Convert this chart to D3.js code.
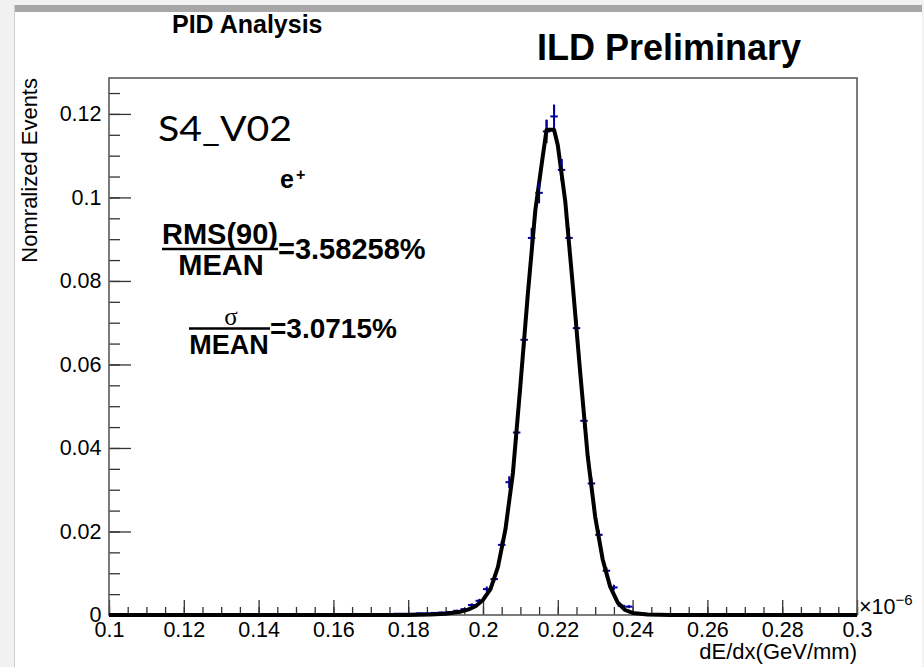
<!DOCTYPE html>
<html lang="en">
<head>
<meta charset="UTF-8">
<title>PID Analysis</title>
<style>
  body { margin: 0; background: #f1f1f1; }
  svg { display: block; }
  text { font-family: "Liberation Sans", Arial, sans-serif; fill: #000; }
</style>
</head>
<body>
<div id="chart"></div>
<script src="https://cdn.jsdelivr.net/npm/d3@7"></script>
<script>
// histogram binning: 100 bins between 0.1 and 0.3 (x 10^-6 GeV/mm)
const binStart = 0.1;
const binWidth = 0.002;
const binValues = [
  0, 0, 0, 0, 0, 0, 0, 0, 0, 0,
  0, 0.0002, 0.0001, 0, 0, 0, 0.0002, 0, 0.0001, 0,
  0, 0, 0, 0, 0, 0, 0.0002, 0.0002, 0.0001, 0,
  0, 0.0001, 0, 0, 0, 0.0002, 0.0002, 0.0002, 0.0003, 0.0003,
  0.0003, 0.0004, 0.0004, 0.0005, 0.0006, 0.0007, 0.0010, 0.0014, 0.0024, 0.0034,
  0.0062, 0.0086, 0.0168, 0.0318, 0.0437, 0.0659, 0.0903, 0.1011, 0.1158, 0.1194,
  0.1066, 0.0903, 0.0687, 0.0465, 0.0315, 0.0192, 0.0106, 0.0066, 0.0022, 0.0020,
  0.0004, 0.0002, 0.0002, 0.0002, 0, 0, 0, 0, 0, 0,
  0, 0, 0, 0.0001, 0.0002, 0.0002, 0.0001, 0, 0, 0,
  0.0001, 0, 0, 0, 0, 0.0001, 0, 0.0001, 0, 0.0002
];
const binErrors = [
  0, 0, 0, 0, 0, 0, 0, 0, 0, 0,
  0, 0.00011, 0.00008, 0, 0, 0, 0.00011, 0, 0.00008, 0,
  0, 0, 0, 0, 0, 0, 0.00011, 0.00011, 0.00008, 0,
  0, 0.00008, 0, 0, 0, 0.00011, 0.00011, 0.00011, 0.00014, 0.00014,
  0.00014, 0.00016, 0.00016, 0.00018, 0.0002, 0.00021, 0.00025, 0.0003, 0.00039, 0.00047,
  0.00063, 0.00074, 0.001, 0.0014, 0.0017, 0.0021, 0.0024, 0.0025, 0.0028, 0.0028,
  0.0026, 0.0024, 0.0021, 0.0017, 0.0014, 0.0011, 0.0008, 0.00065, 0.00038, 0.00036,
  0.00016, 0.00011, 0.00011, 0.00011, 0, 0, 0, 0, 0, 0,
  0, 0, 0, 0.00008, 0.00011, 0.00011, 0.00008, 0, 0, 0,
  0.00008, 0, 0, 0, 0, 0.00008, 0, 0.00008, 0, 0.00011
];

// fitted curve
const fitX = [0.1, 0.18, 0.186, 0.19, 0.194, 0.196, 0.198, 0.2, 0.202, 0.204, 0.206, 0.208, 0.21,
  0.212, 0.214, 0.216, 0.217, 0.219, 0.22, 0.222, 0.224, 0.226, 0.228, 0.23, 0.232, 0.234,
  0.236, 0.238, 0.24, 0.244, 0.25, 0.3];
const fitY = [0, 0, 0.0001, 0.0003, 0.0008, 0.0013, 0.0021, 0.0036, 0.0062, 0.0115, 0.0205, 0.034, 0.055,
  0.077, 0.097, 0.110, 0.1162, 0.1162, 0.1125, 0.099, 0.079, 0.058, 0.038, 0.0235, 0.0133, 0.0068,
  0.003, 0.0012, 0.0005, 0.0001, 0, 0];

const xTicks = [0.1, 0.12, 0.14, 0.16, 0.18, 0.2, 0.22, 0.24, 0.26, 0.28, 0.3];
const xTickLabels = ["0.1", "0.12", "0.14", "0.16", "0.18", "0.2", "0.22", "0.24", "0.26", "0.28", "0.3"];
const yTicks = [0, 0.02, 0.04, 0.06, 0.08, 0.1, 0.12];
const yTickLabels = ["0", "0.02", "0.04", "0.06", "0.08", "0.1", "0.12"];

const W = 924, H = 667;
const svg = d3.select("#chart").append("svg")
  .attr("width", W)
  .attr("height", H);

// window chrome
svg.append("rect").attr("width", W).attr("height", H).attr("fill", "#f1f1f1");
svg.append("rect").attr("x", 14).attr("y", 12).attr("width", 908).attr("height", H - 12).attr("fill", "#fff");
svg.append("rect").attr("x", 14).attr("y", 5).attr("width", 908).attr("height", 7).attr("fill", "#a7a7a7");
svg.append("line").attr("x1", 14.5).attr("x2", 14.5).attr("y1", 5).attr("y2", H)
  .attr("stroke", "#cfcfcf");

const x = d3.scaleLinear().domain([0.1, 0.3]).range([109, 857]);
const y = d3.scaleLinear().domain([0, 0.1286]).range([615, 78]);

// minor ticks
const xMinor = d3.range(0, 41).map(i => 0.1 + i * 0.005);
const yMinor = d3.range(0, 26).map(i => i * 0.005);

svg.append("g")
  .attr("transform", "translate(0,615)")
  .call(d3.axisBottom(x).tickValues(xMinor).tickSize(-8).tickFormat(""))
  .call(g => g.select(".domain").remove())
  .call(g => g.selectAll("line").attr("stroke", "#333").attr("stroke-width", 1.3));

svg.append("g")
  .attr("transform", "translate(109,0)")
  .call(d3.axisLeft(y).tickValues(yMinor).tickSize(-11).tickFormat(""))
  .call(g => g.select(".domain").remove())
  .call(g => g.selectAll("line").attr("stroke", "#333").attr("stroke-width", 1.3));

// major ticks
svg.append("g")
  .attr("transform", "translate(0,615)")
  .call(d3.axisBottom(x).tickValues(xTicks).tickSize(-15).tickPadding(7)
    .tickFormat((d, i) => xTickLabels[i]))
  .call(g => g.select(".domain").remove())
  .call(g => g.selectAll("line").attr("stroke", "#333").attr("stroke-width", 1.3))
  .call(g => g.selectAll("text").attr("font-size", 21.5).attr("fill", "#000")
    .style("font-family", "'Liberation Sans', Arial, sans-serif"));

svg.append("g")
  .attr("transform", "translate(109,0)")
  .call(d3.axisLeft(y).tickValues(yTicks).tickSize(-22).tickPadding(7.5)
    .tickFormat((d, i) => yTickLabels[i]))
  .call(g => g.select(".domain").remove())
  .call(g => g.selectAll("line").attr("stroke", "#333").attr("stroke-width", 1.3))
  .call(g => g.selectAll("text").attr("font-size", 21.5).attr("fill", "#000")
    .style("font-family", "'Liberation Sans', Arial, sans-serif"));

// frame
svg.append("rect")
  .attr("x", 109).attr("y", 78)
  .attr("width", 748).attr("height", 537)
  .attr("fill", "none")
  .attr("stroke", "#5a5a5a")
  .attr("stroke-width", 1.6);

// histogram points with error bars
const bins = binValues.map((v, i) => ({
  lo: binStart + i * binWidth,
  hi: binStart + (i + 1) * binWidth,
  mid: binStart + (i + 0.5) * binWidth,
  v: v,
  e: binErrors[i]
})).filter(d => d.v > 0);

const hist = svg.append("g").attr("stroke", "#0000a0").attr("stroke-width", 2);
hist.selectAll("line.h")
  .data(bins)
  .enter()
  .append("line")
  .attr("class", "h")
  .attr("x1", d => x(d.lo))
  .attr("x2", d => x(d.hi))
  .attr("y1", d => y(d.v))
  .attr("y2", d => y(d.v));
hist.selectAll("line.v")
  .data(bins)
  .enter()
  .append("line")
  .attr("class", "v")
  .attr("x1", d => x(d.mid))
  .attr("x2", d => x(d.mid))
  .attr("y1", d => y(d.v - d.e))
  .attr("y2", d => y(d.v + d.e));

// fit curve
const line = d3.line()
  .x((d, i) => x(fitX[i]))
  .y(d => y(d));
svg.append("path")
  .attr("d", line(fitY))
  .attr("fill", "none")
  .attr("stroke", "#000")
  .attr("stroke-width", 4)
  .attr("stroke-linejoin", "round");

// error bars that stick out above the curve
svg.append("g").attr("stroke", "#0000a0").attr("stroke-width", 2)
  .selectAll("line")
  .data(bins.filter(d => d.v > 0.1))
  .enter()
  .append("line")
  .attr("x1", d => x(d.mid))
  .attr("x2", d => x(d.mid))
  .attr("y1", d => y(d.v + d.e))
  .attr("y2", d => y(d.v + d.e * 0.3));

// titles
svg.append("text").attr("x", 172).attr("y", 33)
  .attr("font-size", 25).attr("font-weight", "bold").text("PID Analysis");
svg.append("text").attr("x", 537).attr("y", 60)
  .attr("font-size", 36).attr("font-weight", "bold").text("ILD Preliminary");

// axis titles
svg.append("text")
  .attr("transform", "translate(37,78) rotate(-90)")
  .attr("text-anchor", "end")
  .attr("font-size", 22)
  .text("Nomralized Events");
svg.append("text").attr("x", 857).attr("y", 659)
  .attr("text-anchor", "end").attr("font-size", 22).text("dE/dx(GeV/mm)");
const expo = svg.append("text").attr("x", 859).attr("y", 614).attr("font-size", 21.5);
expo.append("tspan").text("\u00d710");
expo.append("tspan").attr("dy", -9).attr("font-size", 15).text("\u22126");

// annotations
svg.append("text").attr("x", 158).attr("y", 141)
  .attr("font-size", 34)
  .attr("textLength", 134)
  .attr("lengthAdjust", "spacingAndGlyphs")
  .style("font-family", "Lato, 'Open Sans', sans-serif")
  .text("S4_V02");

svg.append("text").attr("x", 280).attr("y", 188)
  .attr("font-size", 25).attr("font-weight", "bold").text("e");
svg.append("text").attr("x", 296).attr("y", 180)
  .attr("font-size", 16).attr("font-weight", "bold").text("+");

svg.append("text").attr("x", 220).attr("y", 244)
  .attr("text-anchor", "middle").attr("font-size", 29).attr("font-weight", "bold").text("RMS(90)");
svg.append("line").attr("x1", 162).attr("x2", 278).attr("y1", 249).attr("y2", 249)
  .attr("stroke", "#000").attr("stroke-width", 2.4);
svg.append("text").attr("x", 221).attr("y", 275)
  .attr("text-anchor", "middle").attr("font-size", 29).attr("font-weight", "bold").text("MEAN");
svg.append("text").attr("x", 278).attr("y", 259)
  .attr("font-size", 29).attr("font-weight", "bold").text("=3.58258%");

svg.append("text").attr("x", 231).attr("y", 325)
  .attr("text-anchor", "middle").attr("font-size", 25)
  .style("font-family", "'Liberation Serif', serif").text("\u03c3");
svg.append("line").attr("x1", 189).attr("x2", 270).attr("y1", 328.5).attr("y2", 328.5)
  .attr("stroke", "#000").attr("stroke-width", 2.4);
svg.append("text").attr("x", 229).attr("y", 354)
  .attr("text-anchor", "middle").attr("font-size", 27).attr("font-weight", "bold").text("MEAN");
svg.append("text").attr("x", 270).attr("y", 338)
  .attr("font-size", 28).attr("font-weight", "bold").text("=3.0715%");
</script>
</body>
</html>
